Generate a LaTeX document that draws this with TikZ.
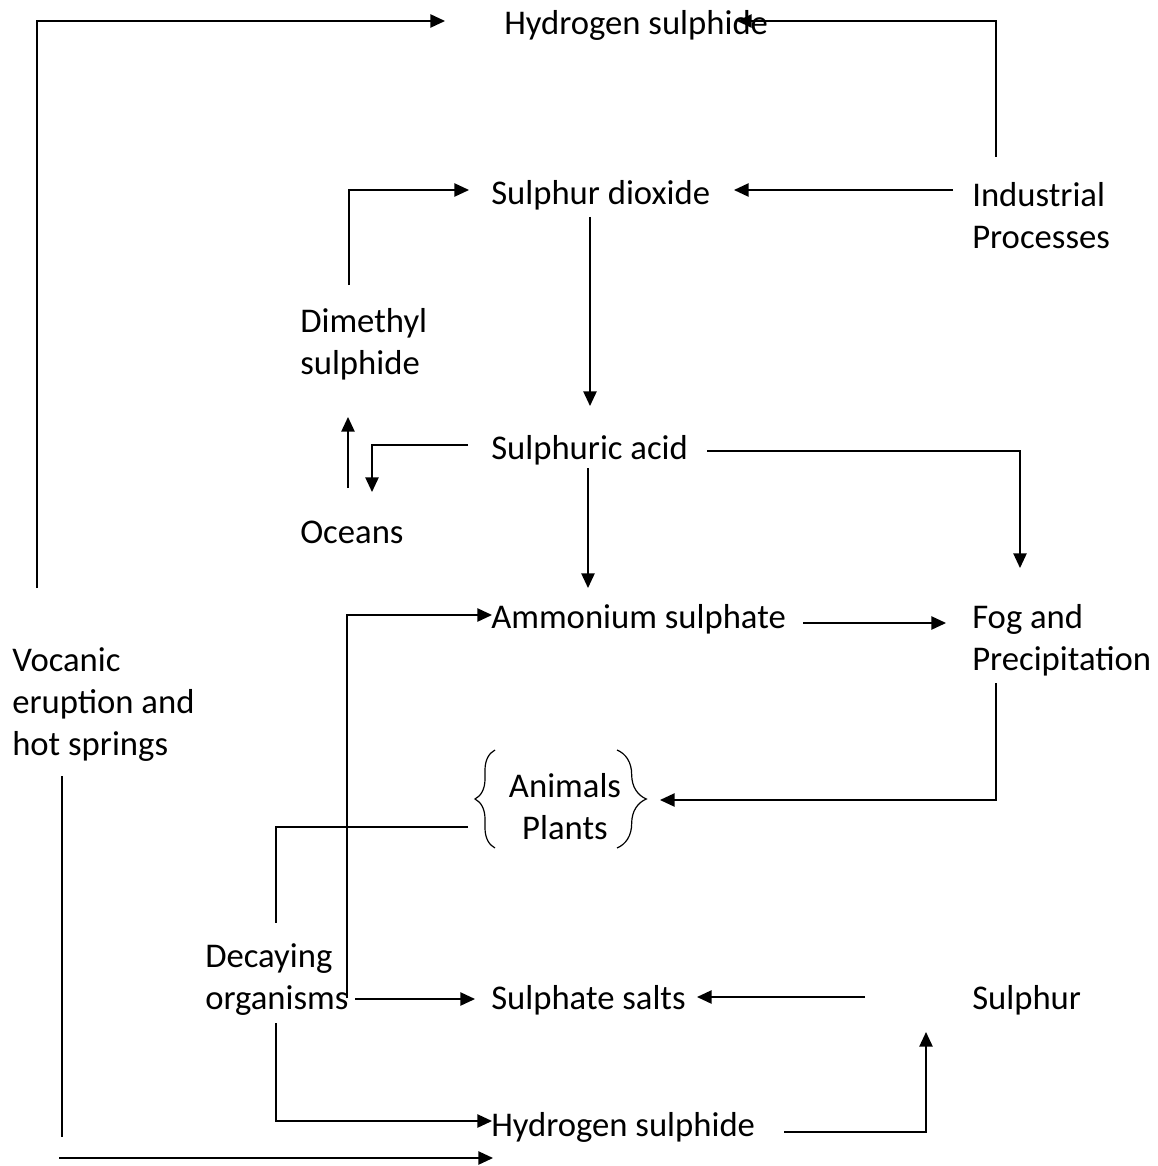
\documentclass[tikz,border=0pt]{standalone}
\usepackage{fontspec}
\setmainfont{Carlito}
\usetikzlibrary{arrows.meta,decorations.pathreplacing}
\begin{document}
\begin{tikzpicture}[x=0.75pt,y=-0.75pt,
 lbl/.style={font=\fontsize{26}{31.5}\selectfont, inner sep=0pt, anchor=base west, align=left},
 conn/.style={line width=1.1pt, -{Triangle[length=11pt,width=10pt]}},
 plainline/.style={line width=1.1pt},
 brc/.style={decorate, decoration={brace, amplitude=#1}, line width=0.9pt}]
\useasboundingbox (0,0) rectangle (1157,1166);
% nodes (multi-line nodes: base = baseline of last line)
\node[lbl] (hs1) at (504,35) {Hydrogen sulphide};
\node[lbl] (sd) at (491,205) {Sulphur dioxide};
\node[lbl] (ip) at (972,248) {Industrial\\Processes};
\node[lbl] (dms) at (300,374) {Dimethyl\\sulphide};
\node[lbl] (sa) at (491,459) {Sulphuric acid};
\node[lbl] (oc) at (300,543) {Oceans};
\node[lbl] (as) at (491,628) {Ammonium sulphate};
\node[lbl] (fog) at (972,670) {Fog and\\Precipitation};
\node[lbl] (volc) at (12,755) {Vocanic\\eruption and\\hot springs};
\node[lbl, align=center, anchor=base] (ap) at (565,839) {Animals\\Plants};
\node[lbl] (dec) at (205,1009) {Decaying\\organisms};
\node[lbl] (ss) at (491,1009) {Sulphate salts};
\node[lbl] (sul) at (972,1009) {Sulphur};
\node[lbl] (hs2) at (491,1136) {Hydrogen sulphide};
% braces
\draw[brc=15pt] (495,848) -- (495,750);
\draw[brc=22pt] (617,750) -- (617,848);
% connector end points
\coordinate (v1a) at (37,588);   \coordinate (v1b) at (445,21);
\coordinate (i1a) at (996,157);  \coordinate (i1b) at (737,21);
\coordinate (d1a) at (349,285);  \coordinate (d1b) at (469,190);
\coordinate (i2a) at (953,190);  \coordinate (i2b) at (734,190);
\coordinate (s1a) at (590,217);  \coordinate (s1b) at (590,406);
\coordinate (o1a) at (348,488);  \coordinate (o1b) at (348,417);
\coordinate (a1a) at (468,445);  \coordinate (a1b) at (372,492);
\coordinate (a2a) at (588,468);  \coordinate (a2b) at (588,588);
\coordinate (a3a) at (707,451);  \coordinate (a3b) at (1020,568);
\coordinate (m1a) at (347,998);  \coordinate (m1b) at (492,615);
\coordinate (m2a) at (803,623);  \coordinate (m2b) at (946,623);
\coordinate (f1a) at (996,683);  \coordinate (f1b) at (660,800);
\coordinate (p1a) at (468,827);  \coordinate (p1b) at (276,923);
\coordinate (e1a) at (355,999);  \coordinate (e1b) at (475,999);
\coordinate (u1a) at (865,997);  \coordinate (u1b) at (697,997);
\coordinate (e2a) at (276,1023); \coordinate (e2b) at (492,1121);
\coordinate (h1a) at (784,1132); \coordinate (h1b) at (926,1032);
\coordinate (w1a) at (62,776);   \coordinate (w1b) at (62,1137);
\coordinate (w2a) at (59,1158);  \coordinate (w2b) at (493,1158);
% connectors
\draw[conn] (v1a) |- (v1b);
\draw[conn] (i1a) |- (i1b);
\draw[conn] (d1a) |- (d1b);
\draw[conn] (i2a) -- (i2b);
\draw[conn] (s1a) -- (s1b);
\draw[conn] (o1a) -- (o1b);
\draw[conn] (a1a) -| (a1b);
\draw[conn] (a2a) -- (a2b);
\draw[conn] (a3a) -| (a3b);
\draw[conn] (m1a) |- (m1b);
\draw[conn] (m2a) -- (m2b);
\draw[conn] (f1a) |- (f1b);
\draw[plainline] (p1a) -| (p1b);
\draw[conn] (e1a) -- (e1b);
\draw[conn] (u1a) -- (u1b);
\draw[conn] (e2a) |- (e2b);
\draw[conn] (h1a) -| (h1b);
\draw[plainline] (w1a) -- (w1b);
\draw[conn] (w2a) -- (w2b);
\end{tikzpicture}
\end{document}
